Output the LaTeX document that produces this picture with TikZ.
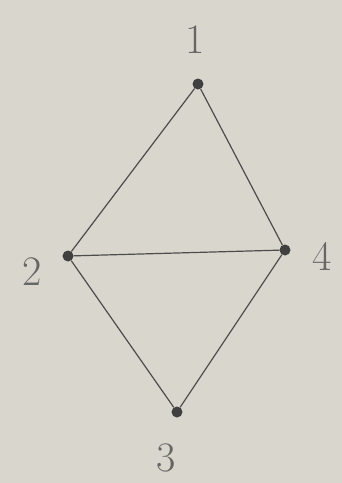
\documentclass[tikz,border=0pt]{standalone}
\begin{document}
\begin{tikzpicture}[x=1pt,y=-1pt,
  vert/.style={circle,fill=black!75,inner sep=0pt,minimum size=11pt},
  lbl/.style={text=black!60,font=\fontsize{42}{42}\selectfont},
  edge/.style={draw=black!70,line width=1.2pt}]
\fill[fill={rgb,255:red,217;green,214;blue,206}] (0,0) rectangle (342,483);
\useasboundingbox (0,0) rectangle (342,483);
\node[vert] (n1) at (198,84) {};
\node[vert] (n2) at (68,256) {};
\node[vert] (n4) at (285,250) {};
\node[vert] (n3) at (177,412) {};
\node[lbl] (l1) at (195,40) {1};
\node[lbl] (l2) at (32,272) {2};
\node[lbl] (l4) at (322,256) {4};
\node[lbl] (l3) at (166,458) {3};
\draw[edge] (n1) -- (n2);
\draw[edge] (n1) -- (n4);
\draw[edge] (n2) -- (n4);
\draw[edge] (n2) -- (n3);
\draw[edge] (n4) -- (n3);
\end{tikzpicture}
\end{document}
